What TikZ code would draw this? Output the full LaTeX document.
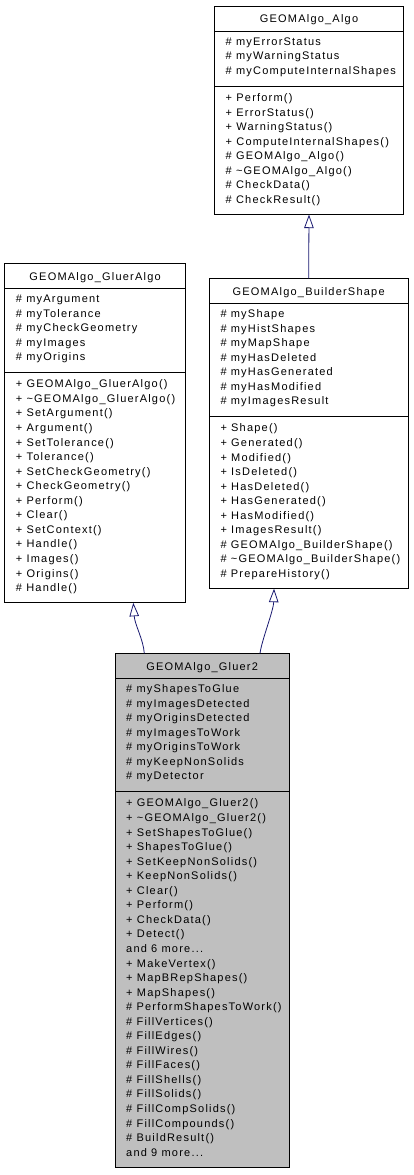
\documentclass[tikz,border=0pt]{standalone}
\usepackage{fontspec}
\usetikzlibrary{arrows.meta}
\newfontfamily\dx[LetterSpace=11]{Liberation Sans}
\newcommand{\mrdots}{...}
\definecolor{edgeblue}{RGB}{25,25,112}
\definecolor{hilite}{RGB}{191,191,191}
\tikzset{
  classbox/.style={draw=black, line width=0.8pt, inner sep=0pt, outer sep=0pt},
  sepline/.style={draw=black, line width=0.8pt},
  cls/.style={font=\dx\fontsize{11}{12}\selectfont, inner sep=0pt, text=black},
  inherit/.style={draw=edgeblue, line width=0.8pt, -{Triangle[open, length=13.5pt, width=9.5pt, line width=0.8pt]}},
  curfill/.style={fill=white}
}
\newcommand{\umlclass}[9]{%
  \pgfmathsetmacro\sA{#5+25}%
  \pgfmathsetmacro\sB{\sA+#6*14.55+11.5}%
  \pgfmathsetmacro\bt{\sB+#7*14.55+12}%
  \node[classbox, curfill, minimum width={#4-#3}, minimum height={\bt-#5}, anchor=north west] (#1) at (#3,#5) {};
  \draw[sepline] (#3,\sA) -- (#4,\sA);
  \draw[sepline] (#3,\sB) -- (#4,\sB);
  \node[cls, anchor=base] (#1-t) at ({(#3+#4)/2},#5+17) {#2};
  \foreach \s [count=\i from 0] in {#8} {\node[cls, anchor=base west] (#1-a\i) at (#3+11,\sA+14.3+\i*14.55) {\s};}
  \foreach \s [count=\i from 0] in {#9} {\node[cls, anchor=base west] (#1-m\i) at (#3+11,\sB+15.3+\i*14.55) {\s};}
}
\begin{document}
\begin{tikzpicture}[x=1pt,y=-1pt]
\useasboundingbox (0,0) rectangle (413,1175);
\umlclass{algo}{GEOMAlgo\_Algo}{214.5}{403.5}{6}{3}{8}%
 {\# myErrorStatus,\# myWarningStatus,\# myComputeInternalShapes}%
 {+ Perform(),+ ErrorStatus(),+ WarningStatus(),+ ComputeInternalShapes(),\# GEOMAlgo\_Algo(),\# \textasciitilde GEOMAlgo\_Algo(),\# CheckData(),\# CheckResult()}
\umlclass{glueralgo}{GEOMAlgo\_GluerAlgo}{4.7}{185.5}{263.3}{5}{15}%
 {\# myArgument,\# myTolerance,\# myCheckGeometry,\# myImages,\# myOrigins}%
 {+ GEOMAlgo\_GluerAlgo(),+ \textasciitilde GEOMAlgo\_GluerAlgo(),+ SetArgument(),+ Argument(),+ SetTolerance(),+ Tolerance(),+ SetCheckGeometry(),+ CheckGeometry(),+ Perform(),+ Clear(),+ SetContext(),+ Handle(),+ Images(),+ Origins(),\# Handle()}
\umlclass{builder}{GEOMAlgo\_BuilderShape}{209.3}{408}{278.3}{7}{11}%
 {\# myShape,\# myHistShapes,\# myMapShape,\# myHasDeleted,\# myHasGenerated,\# myHasModified,\# myImagesResult}%
 {+ Shape(),+ Generated(),+ Modified(),+ IsDeleted(),+ HasDeleted(),+ HasGenerated(),+ HasModified(),+ ImagesResult(),\# GEOMAlgo\_BuilderShape(),\# \textasciitilde GEOMAlgo\_BuilderShape(),\# PrepareHistory()}
\tikzset{curfill/.style={fill=hilite}}
\umlclass{gluer}{GEOMAlgo\_Gluer2}{115}{289.3}{653.3}{7}{25}%
 {\# myShapesToGlue,\# myImagesDetected,\# myOriginsDetected,\# myImagesToWork,\# myOriginsToWork,\# myKeepNonSolids,\# myDetector}%
 {+ GEOMAlgo\_Gluer2(),+ \textasciitilde GEOMAlgo\_Gluer2(),+ SetShapesToGlue(),+ ShapesToGlue(),+ SetKeepNonSolids(),+ KeepNonSolids(),+ Clear(),+ Perform(),+ CheckData(),+ Detect(),and 6 more\mrdots,+ MakeVertex(),+ MapBRepShapes(),+ MapShapes(),\# PerformShapesToWork(),\# FillVertices(),\# FillEdges(),\# FillWires(),\# FillFaces(),\# FillShells(),\# FillSolids(),\# FillCompSolids(),\# FillCompounds(),\# BuildResult(),and 9 more\mrdots}
% inheritance connectors
\draw[inherit] (builder.north) -- (algo.south);
\draw[inherit] ([xshift=29.3pt]gluer.north west) .. controls +(-1,-14) and +(1.5,22) .. ([xshift=128.6pt]glueralgo.south west);
\draw[inherit] ([xshift=145pt]gluer.north west) .. controls +(2,-14) and +(-0.5,22) .. ([xshift=64.7pt]builder.south west);
\end{tikzpicture}
\end{document}
